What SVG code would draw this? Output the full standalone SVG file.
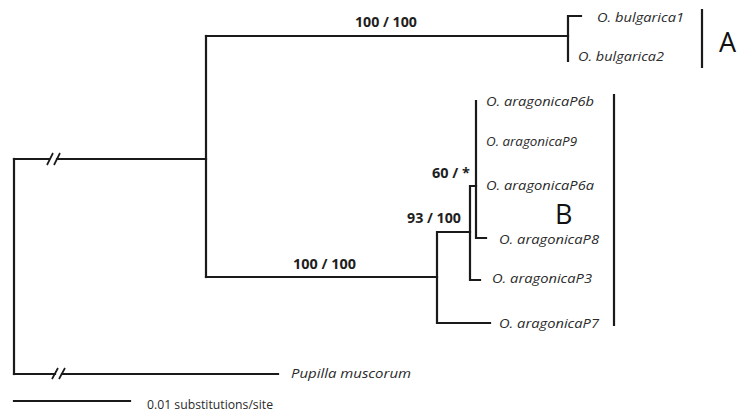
<svg xmlns="http://www.w3.org/2000/svg" width="737" height="412" viewBox="0 0 737 412">
  <style>
    .br { fill: none; stroke: #1a1a1a; stroke-width: 2.2; stroke-linecap: square; }
    .brk { fill: none; stroke: #1a1a1a; stroke-width: 1.7; }
    .bar { fill: none; stroke: #1a1a1a; stroke-width: 2.2; }
    .taxon { font-family: "Open Sans", "Liberation Sans", sans-serif; font-style: italic; font-size: 13.5px; fill: #2a2a2a; }
    .sup { font-family: "Open Sans", "Liberation Sans", sans-serif; font-weight: bold; font-size: 13.5px; fill: #1e1e1e; }
    .clade { font-family: "Open Sans", "Liberation Sans", sans-serif; font-size: 27px; fill: #111; }
    .scale { font-family: "Open Sans", "Liberation Sans", sans-serif; font-size: 12px; fill: #2a2a2a; }
  </style>
  <rect width="737" height="412" fill="#ffffff"/>

  <!-- branches -->
  <g id="connectors">
    <!-- root -->
    <path class="br" d="M14 159 V374"/>
    <path class="br" d="M14 159 H49 M57 159 H206"/>
    <path class="br" d="M14 374 H55 M62 374 H278"/>
    <!-- ingroup split -->
    <path class="br" d="M206 36 V277"/>
    <path class="br" d="M206 36 H568"/>
    <path class="br" d="M206 277 H437"/>
    <!-- clade A -->
    <path class="br" d="M568 16 V61 M568 16 H581"/>
    <!-- clade B -->
    <path class="br" d="M437 232 V323 M437 232 H470 M437 323 H490"/>
    <path class="br" d="M470 186 V280 M470 280 H480 M470 186 H476"/>
    <path class="br" d="M476 101 V238 M476 238 H486"/>
  </g>

  <!-- long-branch breaks -->
  <g id="breaks">
    <path class="brk" d="M47 165 L53 153 M54 165 L60 153"/>
    <path class="brk" d="M52 379 L58 368 M59 379 L65 368"/>
  </g>

  <!-- support values -->
  <g id="support">
    <text class="sup" x="355" y="27" textLength="62" lengthAdjust="spacingAndGlyphs">100 / 100</text>
    <text class="sup" x="293" y="269" textLength="63" lengthAdjust="spacingAndGlyphs">100 / 100</text>
    <text class="sup" x="407" y="223" textLength="54" lengthAdjust="spacingAndGlyphs">93 / 100</text>
    <text class="sup" x="432" y="178" textLength="38" lengthAdjust="spacingAndGlyphs">60 / *</text>
  </g>

  <!-- taxa -->
  <g id="taxon-bulgarica1"><text class="taxon" x="597" y="22" textLength="87" lengthAdjust="spacingAndGlyphs">O. bulgarica1</text></g>
  <g id="taxon-bulgarica2"><text class="taxon" x="578" y="61" textLength="86" lengthAdjust="spacingAndGlyphs">O. bulgarica2</text></g>
  <g id="taxon-P6b"><text class="taxon" x="486" y="106" textLength="108" lengthAdjust="spacingAndGlyphs">O. aragonicaP6b</text></g>
  <g id="taxon-P9"><text class="taxon" x="486" y="146" textLength="91" lengthAdjust="spacingAndGlyphs">O. aragonicaP9</text></g>
  <g id="taxon-P6a"><text class="taxon" x="486" y="190" textLength="108" lengthAdjust="spacingAndGlyphs">O. aragonicaP6a</text></g>
  <g id="taxon-P8"><text class="taxon" x="499" y="244" textLength="100" lengthAdjust="spacingAndGlyphs">O. aragonicaP8</text></g>
  <g id="taxon-P3"><text class="taxon" x="492" y="283" textLength="100" lengthAdjust="spacingAndGlyphs">O. aragonicaP3</text></g>
  <g id="taxon-P7"><text class="taxon" x="499" y="328" textLength="100" lengthAdjust="spacingAndGlyphs">O. aragonicaP7</text></g>
  <g id="taxon-pupilla"><text class="taxon" x="291" y="378" textLength="120" lengthAdjust="spacingAndGlyphs">Pupilla muscorum</text></g>

  <!-- clade bars -->
  <g id="clade-A">
    <path class="bar" d="M702 9 V68"/>
    <text class="clade" x="719" y="52">A</text>
  </g>
  <g id="clade-B">
    <path class="bar" d="M614 94 V326"/>
    <text class="clade" x="555" y="224">B</text>
  </g>

  <!-- scale bar -->
  <g id="scale-bar">
    <path class="br" d="M14 401 H130"/>
    <text class="scale" x="147" y="409" textLength="126" lengthAdjust="spacingAndGlyphs">0.01 substitutions/site</text>
  </g>
</svg>
